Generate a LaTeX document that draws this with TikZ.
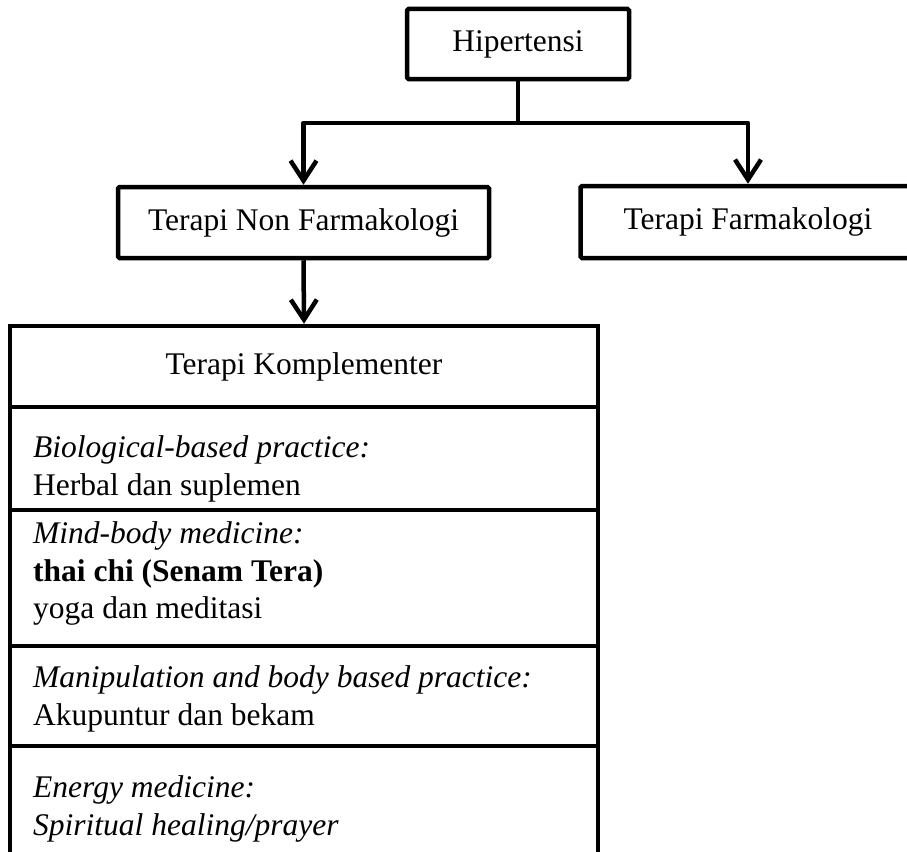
\documentclass[tikz,border=0pt]{standalone}
\usepackage{fontspec}
\setmainfont{Liberation Serif}
\usetikzlibrary{arrows.meta}

\tikzset{
  box/.style={draw, line width=4.5pt, rounded corners=1.5pt, inner sep=0pt, align=center},
  cell/.style={draw, line width=4.5pt, inner sep=0pt, minimum width=588pt},
  celltext/.style={anchor=north west, inner sep=0pt, align=left},
  arr/.style={line width=4.5pt, line join=round, -{Straight Barb[length=20pt,width=26pt]}}
}

\begin{document}
\begin{tikzpicture}[x=1pt, y=-1pt, font={\fontsize{31.5}{37.5}\selectfont}]
  \clip (0,0) rectangle (907,851);
  % Top of the tree
  \node[box, minimum width=222pt, minimum height=70pt] (hip) at (518,44) {Hipertensi};
  \node[box, minimum width=371pt, minimum height=71pt] (nonf) at (303.5,222.5) {Terapi Non Farmakologi};
  \node[box, minimum width=335pt, minimum height=72pt] (farm) at (748,222) {Terapi Farmakologi};
  \coordinate (split) at (518,123);

  % Table of complementary therapies
  \node[cell, minimum height=81pt] (komp) at (304,366.5) {Terapi Komplementer};
  \node[cell, minimum height=103pt] (bio) at (304,458.5) {};
  \node[cell, minimum height=136pt] (mind) at (304,578) {};
  \node[cell, minimum height=100pt] (mani) at (304,696) {};
  \node[cell, minimum height=134pt] (ener) at (304,813) {};

  \node[celltext] (biotext) at (33,435.5) {\textit{Biological-based practice:}\\Herbal dan suplemen};
  \node[celltext] (mindtext) at (33,521.5) {\textit{Mind-body medicine:}\\\textbf{thai chi (Senam Tera)}\\yoga dan meditasi};
  \node[celltext] (manitext) at (33,665.5) {\textit{Manipulation and body based practice:}\\Akupuntur dan bekam};
  \node[celltext] (enertext) at (33,775.5) {\textit{Energy medicine:}\\\textit{Spiritual healing/prayer}};

  % Connectors
  \draw[line width=4.5pt] (hip.south) -- (split);
  \draw[arr] (split) -| (nonf.north);
  \draw[arr] (split) -| (farm.north);
  \draw[arr] (nonf.south) -- (komp.north);
\end{tikzpicture}
\end{document}
